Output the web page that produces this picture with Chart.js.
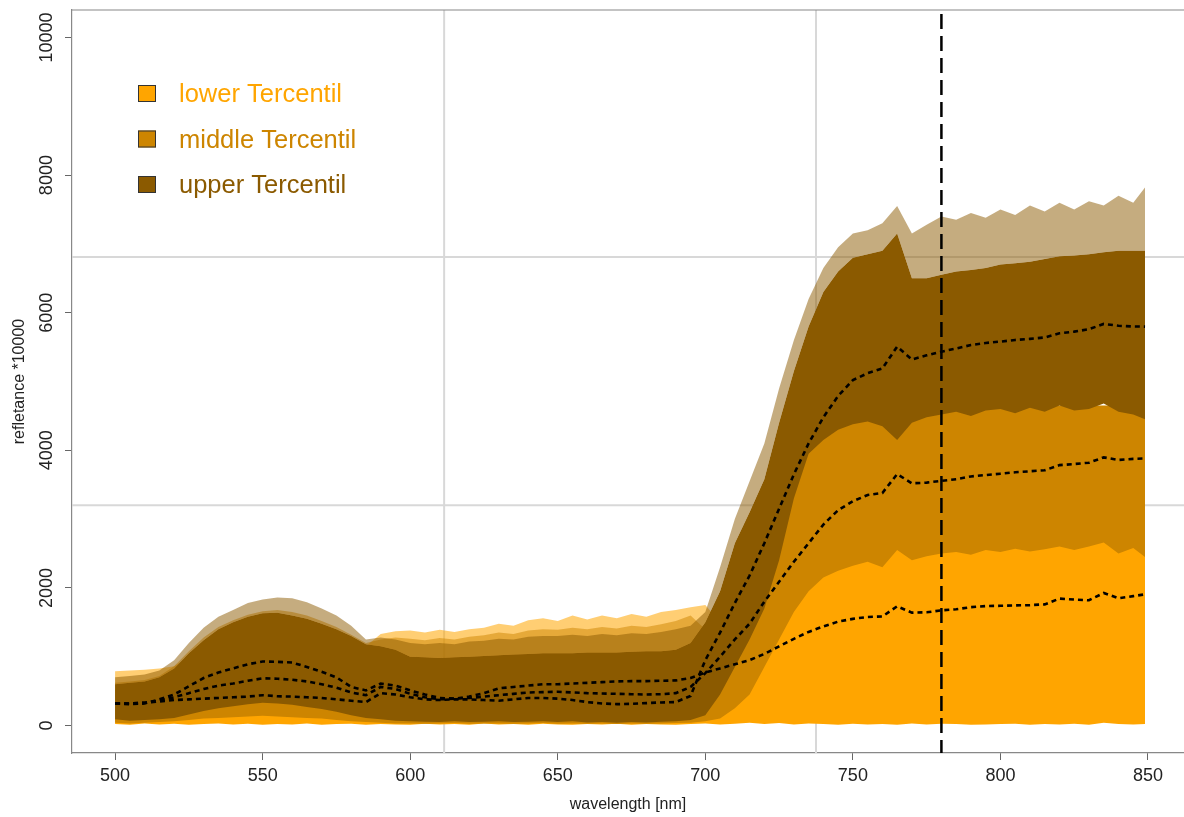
<!DOCTYPE html>
<html>
<head>
<meta charset="utf-8">
<script src="https://cdn.jsdelivr.net/npm/chart.js@4/dist/chart.umd.min.js"></script>
<style>
  html, body { margin: 0; padding: 0; background: #fff; }
  #chart { display: block; }
</style>
</head>
<body>
<canvas id="chart" width="1184" height="817"></canvas>
<script>
// spectra of the three tercentiles (reflectance *10000)

var wavelengths = [500, 505, 510, 515, 520, 525, 530, 535, 540, 545,
  550, 555, 560, 565, 570, 575, 580, 585, 590, 595,
  600, 605, 610, 615, 620, 625, 630, 635, 640, 645,
  650, 655, 660, 665, 670, 675, 680, 685, 690, 695,
  700, 705, 710, 715, 720, 725, 730, 735, 740, 745,
  750, 755, 760, 765, 770, 775, 780, 785, 790, 795,
  800, 805, 810, 815, 820, 825, 830, 835, 840, 845, 849];

var xTicks = [500, 550, 600, 650, 700, 750, 800, 850];
var yTicks = [0, 2000, 4000, 6000, 8000, 10000];

var seriesNames = ["lower Tercentil", "middle Tercentil", "upper Tercentil"];
var seriesColors = ["#FFA500", "#CD8500", "#8B5A00"];
var fringeColors = ["rgba(255,165,0,0.55)", "rgba(205,133,0,0.5)", "rgba(139,90,0,0.5)"];

// median of each tercentile (dashed lines)
var lowerMedian = [320, 310, 320, 380, 450, 570, 690, 770, 830, 890,
  930, 925, 915, 850, 780, 700, 560, 510, 610, 580,
  510, 450, 400, 390, 420, 470, 540, 560, 580, 600,
  600, 610, 620, 630, 640, 645, 645, 650, 655, 690,
  770, 830, 890, 950, 1040, 1150, 1260, 1360, 1440, 1510,
  1550, 1577, 1585, 1732, 1640, 1645, 1674, 1690, 1720, 1735,
  1740, 1745, 1750, 1760, 1844, 1830, 1820, 1926, 1850, 1880, 1907];
var middleMedian = [320, 320, 330, 360, 410, 470, 530, 580, 610, 650,
  685, 680, 665, 640, 600, 550, 480, 440, 560, 530,
  460, 410, 380, 390, 400, 420, 440, 460, 480, 485,
  490, 480, 470, 465, 460, 455, 450, 455, 470, 560,
  760, 1000, 1250, 1480, 1800, 2090, 2380, 2650, 2920, 3130,
  3260, 3350, 3380, 3654, 3520, 3530, 3556, 3580, 3620, 3640,
  3660, 3680, 3695, 3710, 3785, 3800, 3820, 3897, 3860, 3875, 3882];
var upperMedian = [320, 320, 330, 350, 370, 380, 390, 400, 410, 420,
  440, 425, 420, 410, 400, 380, 360, 340, 470, 450,
  410, 380, 370, 380, 380, 370, 360, 380, 400, 400,
  390, 370, 340, 320, 310, 315, 325, 335, 340, 430,
  950, 1350, 1780, 2180, 2650, 3150, 3650, 4100, 4480, 4790,
  5020, 5120, 5190, 5507, 5320, 5380, 5434, 5480, 5530, 5560,
  5580, 5604, 5620, 5640, 5701, 5725, 5760, 5837, 5810, 5800, 5798];

// envelopes: lowest curve, top of the dense bundle, highest single curve
var lowerMin = [20, 10, 30, 15, 25, 10, 20, 30, 15, 25,
  10, 20, 15, 30, 10, 20, 25, 10, 20, 15,
  10, 25, 15, 20, 10, 30, 15, 20, 10, 25,
  15, 10, 20, 15, 25, 10, 20, 15, 10, 20,
  30, 15, 25, 40, 20, 35, 15, 30, 20, 10,
  25, 15, 20, 10, 30, 15, 25, 20, 10, 15,
  20, 25, 10, 20, 15, 25, 10, 40, 20, 15, 20];
var lowerDense = [450, 470, 490, 550, 680, 900, 1090, 1250, 1350, 1430,
  1480, 1490, 1450, 1400, 1330, 1250, 1150, 1030, 1000, 950,
  850, 840, 830, 840, 850, 860, 870, 880, 890, 900,
  900, 900, 910, 910, 910, 920, 930, 930, 950, 1050,
  1300, 1500, 1700, 1900, 2000, 2200, 2300, 2400, 2500, 2600,
  2650, 2700, 2650, 2850, 2700, 2760, 2800, 2820, 2780, 2850,
  2820, 2870, 2830, 2860, 2900, 2850, 2900, 2960, 2800, 2880, 2750];
var lowerMax = [790, 800, 810, 830, 860, 1000, 1150, 1300, 1400, 1450,
  1500, 1500, 1480, 1420, 1350, 1250, 1150, 1150, 1330, 1370,
  1380, 1350, 1390, 1360, 1400, 1420, 1480, 1450, 1530, 1560,
  1520, 1600, 1540, 1600, 1560, 1620, 1580, 1650, 1680, 1720,
  1750, 1500, 1700, 1900, 2000, 2200, 2300, 2400, 2500, 2600,
  2650, 2700, 2650, 2850, 2700, 2760, 2800, 2820, 2780, 2850,
  2820, 2870, 2830, 2860, 2900, 2850, 2900, 2960, 2800, 2880, 2750];

var middleMin = [40, 30, 40, 50, 60, 80, 100, 110, 120, 130,
  140, 130, 120, 110, 100, 80, 60, 50, 40, 30,
  30, 25, 30, 35, 25, 30, 30, 25, 30, 35,
  25, 30, 25, 30, 20, 30, 25, 30, 35, 40,
  60, 100, 250, 450, 850, 1250, 1650, 1950, 2150, 2250,
  2320, 2380, 2300, 2550, 2400, 2460, 2500, 2520, 2480, 2550,
  2520, 2570, 2530, 2560, 2600, 2550, 2600, 2660, 2500, 2580, 2450];
var middleDense = [520, 540, 560, 620, 750, 970, 1160, 1320, 1420, 1500,
  1550, 1560, 1520, 1470, 1400, 1320, 1220, 1100, 1070, 1020,
  920, 910, 900, 910, 920, 930, 940, 950, 960, 970,
  970, 970, 980, 980, 980, 990, 1000, 1000, 1020, 1120,
  1400, 1800, 2400, 2900, 3300, 3900, 4300, 4400, 4400, 4500,
  4550, 4600, 4550, 4600, 4600, 4650, 4650, 4650, 4650, 4650,
  4650, 4650, 4650, 4650, 4650, 4650, 4650, 4650, 4650, 4650, 4650];
var middleMax = [620, 640, 660, 720, 860, 1080, 1280, 1430, 1530, 1610,
  1660, 1680, 1650, 1600, 1520, 1430, 1320, 1200, 1250, 1280,
  1260, 1240, 1270, 1250, 1290, 1310, 1350, 1330, 1380, 1400,
  1390, 1420, 1400, 1430, 1410, 1450, 1430, 1470, 1520, 1600,
  1400, 1800, 2400, 2900, 3300, 3900, 4300, 4400, 4400, 4500,
  4550, 4600, 4550, 4600, 4600, 4650, 4650, 4650, 4650, 4650,
  4650, 4650, 4650, 4650, 4650, 4650, 4650, 4650, 4650, 4650, 4650];

var upperMin = [90, 70, 80, 90, 110, 160, 210, 250, 280, 310,
  330, 320, 300, 270, 240, 200, 150, 110, 90, 70,
  60, 55, 50, 60, 50, 55, 60, 50, 55, 60,
  50, 60, 45, 50, 40, 50, 45, 55, 60, 80,
  150, 450, 850, 1250, 1700, 2400, 3300, 3950, 4150, 4300,
  4380, 4420, 4350, 4150, 4400, 4480, 4520, 4560, 4500, 4580,
  4600, 4540, 4620, 4560, 4650, 4580, 4600, 4680, 4560, 4520, 4450];
var upperDense = [600, 620, 640, 700, 830, 1050, 1240, 1400, 1500, 1580,
  1630, 1640, 1600, 1550, 1480, 1400, 1300, 1180, 1150, 1100,
  1000, 990, 980, 990, 1000, 1010, 1020, 1030, 1040, 1050,
  1050, 1050, 1060, 1060, 1060, 1070, 1080, 1080, 1100, 1200,
  1500, 1950, 2650, 3100, 3580, 4400, 5150, 5800, 6300, 6600,
  6800, 6850, 6900, 7150, 6500, 6500, 6550, 6600, 6620, 6650,
  6700, 6720, 6740, 6780, 6820, 6830, 6850, 6880, 6900, 6900, 6900];
var upperMax = [700, 720, 740, 800, 950, 1200, 1420, 1580, 1680, 1780,
  1830, 1860, 1850, 1790, 1700, 1600, 1450, 1250, 1280, 1250,
  1200, 1180, 1200, 1180, 1220, 1230, 1260, 1250, 1290, 1300,
  1300, 1320, 1300, 1330, 1310, 1340, 1330, 1360, 1400, 1450,
  1650, 2300, 3000, 3550, 4100, 4900, 5600, 6200, 6650, 6950,
  7150, 7200, 7300, 7550, 7150, 7280, 7400, 7350, 7450, 7380,
  7500, 7420, 7560, 7470, 7600, 7500, 7620, 7560, 7700, 7600, 7820];

// reference lines of the original figure
var markerWavelength = 780;
var gridWavelengths = [611.5, 737.5];
var gridReflectance = [3200, 6810];

var FONT = "'Liberation Sans', Arial, sans-serif";

function pts(arr) {
  return wavelengths.map(function (w, i) {
    return { x: w, y: arr[i] };
  });
}

function edge(arr, order) {
  return {
    data: pts(arr),
    borderWidth: 0,
    pointRadius: 0,
    fill: false,
    order: order,
  };
}

function area(arr, target, color, order) {
  return {
    data: pts(arr),
    borderWidth: 0,
    pointRadius: 0,
    backgroundColor: color,
    fill: target,
    order: order,
  };
}

function median(arr) {
  return {
    data: pts(arr),
    borderColor: "#000",
    borderWidth: 2.6,
    borderDash: [5, 4],
    pointRadius: 0,
    fill: false,
    order: 0,
  };
}

var datasets = [
  median(upperMedian),                              // 0
  median(middleMedian),                             // 1
  median(lowerMedian),                              // 2
  edge(upperMin, 10),                               // 3
  area(upperDense, 3, seriesColors[2], 11),         // 4
  area(upperMax, 4, fringeColors[2], 12),           // 5
  edge(middleMin, 20),                              // 6
  area(middleDense, 6, seriesColors[1], 21),        // 7
  area(middleMax, 7, fringeColors[1], 22),          // 8
  edge(lowerMin, 30),                               // 9
  area(lowerDense, 9, seriesColors[0], 31),         // 10
  area(lowerMax, 10, fringeColors[0], 32),          // 11
];

var extras = {
  id: "extras",
  beforeDatasetsDraw: function (chart) {
    var ctx = chart.ctx;
    var a = chart.chartArea;
    var xs = chart.scales.x;
    var ys = chart.scales.y;
    ctx.save();
    ctx.strokeStyle = "#d8d8d8";
    ctx.lineWidth = 2;
    gridWavelengths.forEach(function (w) {
      var px = xs.getPixelForValue(w);
      ctx.beginPath();
      ctx.moveTo(px, a.top);
      ctx.lineTo(px, a.bottom);
      ctx.stroke();
    });
    gridReflectance.forEach(function (v) {
      var py = ys.getPixelForValue(v);
      ctx.beginPath();
      ctx.moveTo(a.left, py);
      ctx.lineTo(a.right, py);
      ctx.stroke();
    });
    ctx.restore();
  },
  afterDatasetsDraw: function (chart) {
    var ctx = chart.ctx;
    var a = chart.chartArea;
    var xs = chart.scales.x;
    ctx.save();
    // vertical marker
    var px = xs.getPixelForValue(markerWavelength);
    ctx.strokeStyle = "#000";
    ctx.lineWidth = 2.5;
    ctx.setLineDash([15, 7]);
    ctx.beginPath();
    ctx.moveTo(px, a.top + 4);
    ctx.lineTo(px, a.bottom);
    ctx.stroke();
    ctx.setLineDash([]);
    // top of the box
    ctx.strokeStyle = "#888";
    ctx.lineWidth = 1.2;
    ctx.beginPath();
    ctx.moveTo(a.left, a.top);
    ctx.lineTo(a.right, a.top);
    ctx.stroke();
    // legend
    ctx.font = "25.5px " + FONT;
    ctx.textBaseline = "middle";
    seriesNames.forEach(function (name, i) {
      var y = 93 + i * 45.5;
      ctx.fillStyle = seriesColors[i];
      ctx.fillRect(138, y - 8, 18, 17);
      ctx.strokeStyle = "#333";
      ctx.lineWidth = 1;
      ctx.strokeRect(138.5, y - 7.5, 17, 16);
      ctx.fillStyle = seriesColors[i];
      ctx.fillText(name, 179, y + 2);
    });
    ctx.restore();
  },
};

new Chart(document.getElementById("chart"), {
  type: "line",
  data: { datasets: datasets },
  options: {
    responsive: false,
    animation: false,
    devicePixelRatio: 1,
    layout: { padding: { top: 10, right: 0, left: 0, bottom: 0 } },
    elements: { line: { tension: 0 } },
    plugins: {
      legend: { display: false },
      tooltip: { enabled: false },
      filler: { propagate: false },
    },
    scales: {
      x: {
        type: "linear",
        min: 485.4,
        max: 862.2,
        afterBuildTicks: function (s) {
          s.ticks = xTicks.map(function (v) { return { value: v }; });
        },
        afterFit: function (s) { s.height = 64; },
        grid: {
          display: true,
          drawOnChartArea: false,
          drawTicks: true,
          tickLength: 7,
          color: "#666",
        },
        border: { display: true, color: "#888", width: 1.2 },
        ticks: {
          color: "#222",
          font: { family: FONT, size: 18 },
          padding: 5,
          maxRotation: 0,
          autoSkip: false,
          callback: function (v) { return String(v); },
        },
        title: {
          display: true,
          text: "wavelength [nm]",
          color: "#222",
          font: { family: FONT, size: 16 },
          padding: { top: 0, bottom: 3 },
        },
      },
      y: {
        type: "linear",
        min: -400,
        max: 10400,
        afterBuildTicks: function (s) {
          s.ticks = yTicks.map(function (v) { return { value: v }; });
        },
        afterFit: function (s) { s.width = 72; },
        grid: {
          display: true,
          drawOnChartArea: false,
          drawTicks: true,
          tickLength: 7,
          color: "#666",
        },
        border: { display: true, color: "#888", width: 1.2 },
        ticks: {
          color: "#222",
          font: { family: FONT, size: 18 },
          minRotation: 90,
          maxRotation: 90,
          crossAlign: "center",
          padding: -7,
          autoSkip: false,
          callback: function (v) { return String(v); },
        },
        title: {
          display: true,
          text: "refletance *10000",
          color: "#222",
          font: { family: FONT, size: 16 },
          padding: { top: 10, bottom: 0 },
        },
      },
    },
  },
  plugins: [extras],
});
</script>
</body>
</html>
